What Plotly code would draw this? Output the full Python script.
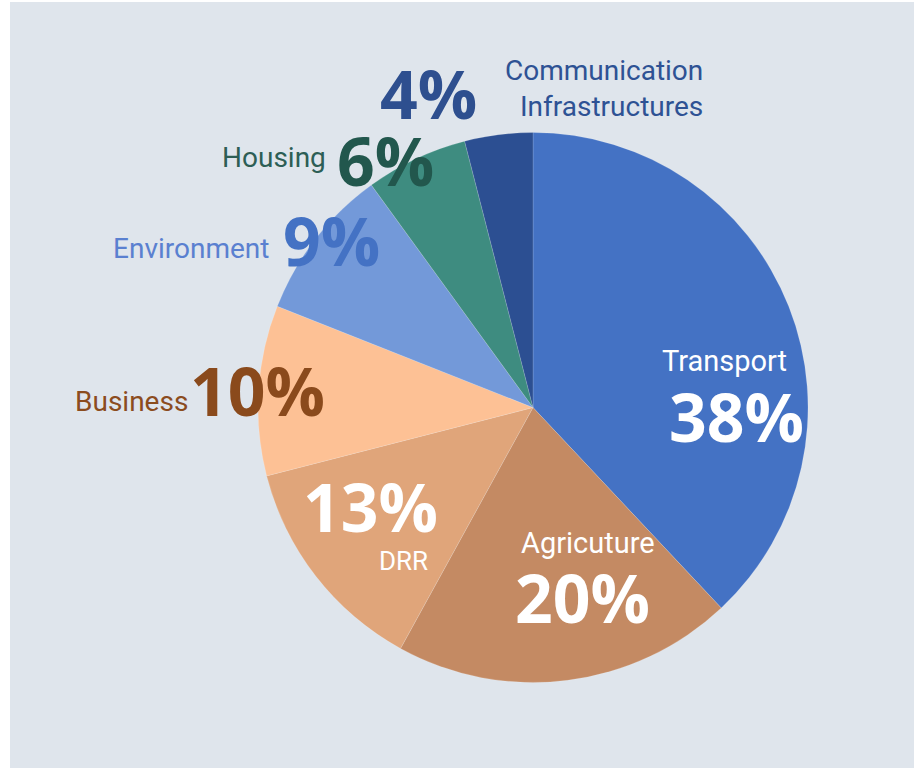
import plotly.graph_objects as go

# data
labels = ["Transport", "Agricuture", "DRR", "Business", "Environment", "Housing", "Communication Infrastructures"]
values = [38, 20, 13, 10, 9, 6, 4]
pct_text = ["38%", "20%", "13%", "10%", "9%", "6%", "4%"]

SLICE_COLORS = ["#4472c4", "#c48a63", "#e0a57a", "#fdc195", "#7399d9", "#3e8c80", "#2c4f92"]
BG = "#dfe5ec"
W, H = 914, 768
LABEL_FONT = "Roboto, sans-serif"
PCT_FONT = "Open Sans, Lato, sans-serif"
PCT_SIZE = 66


def px(x, y):
    return x / W, 1 - y / H


fig = go.Figure()

fig.add_trace(go.Pie(
    labels=labels,
    values=values,
    sort=False,
    direction="clockwise",
    rotation=0,
    textinfo="none",
    hoverinfo="label+percent",
    marker=dict(colors=SLICE_COLORS, line=dict(color="rgba(255,255,255,0.25)", width=0.6)),
    domain=dict(x=[258 / W, 808 / W], y=[1 - 683 / H, 1 - 132 / H]),
    showlegend=False,
))


def add_text(text, x, y, size, color, family, weight="normal", xanchor="center", align="center"):
    ax, ay = px(x, y)
    fig.add_annotation(
        text=text, x=ax, y=ay, xref="paper", yref="paper",
        xanchor=xanchor, yanchor="middle", align=align, showarrow=False,
        font=dict(family=family, size=size, color=color, weight=weight),
    )


# inside labels
add_text(labels[0], 724, 361, 29, "white", LABEL_FONT)
add_text(pct_text[0], 736, 416, PCT_SIZE, "white", PCT_FONT, weight=700)
add_text(labels[1], 588, 543, 29, "white", LABEL_FONT)
add_text(pct_text[1], 582, 597, PCT_SIZE, "white", PCT_FONT, weight=700)
add_text(pct_text[2], 370, 506, PCT_SIZE, "white", PCT_FONT, weight=700)
add_text(labels[2], 430, 561, 26, "white", LABEL_FONT, xanchor="right")

# outside labels
add_text(labels[3], 190, 401, 28, "#8b4c1e", LABEL_FONT, xanchor="right")
add_text(pct_text[3], 188, 390, PCT_SIZE, "#8a4a1c", PCT_FONT, weight=700, xanchor="left")
add_text(labels[4], 271, 248, 28, "#5a80d0", LABEL_FONT, xanchor="right")
add_text(pct_text[4], 281, 240, PCT_SIZE, "#4472c4", PCT_FONT, weight=700, xanchor="left")
add_text(labels[5], 328, 158, 28, "#2d5e55", LABEL_FONT, xanchor="right")
add_text(pct_text[5], 335, 160, PCT_SIZE, "#22574d", PCT_FONT, weight=700, xanchor="left")
add_text(pct_text[6], 378, 93, PCT_SIZE, "#2e4f8f", PCT_FONT, weight=700, xanchor="left")
add_text("Communication<br>Infrastructures", 705, 88, 28, "#2e5294", LABEL_FONT,
         xanchor="right", align="right")

fig.update_layout(
    width=W, height=H,
    margin=dict(l=0, r=0, t=0, b=0),
    paper_bgcolor="white",
    plot_bgcolor="white",
    shapes=[dict(type="rect", xref="paper", yref="paper", x0=10 / W, x1=1, y0=0, y1=1 - 2 / H,
                 fillcolor=BG, line=dict(width=0), layer="below")],
)

fig.write_html("out.html", config={"displayModeBar": False},
               post_script="document.body.style.margin = '0';")
